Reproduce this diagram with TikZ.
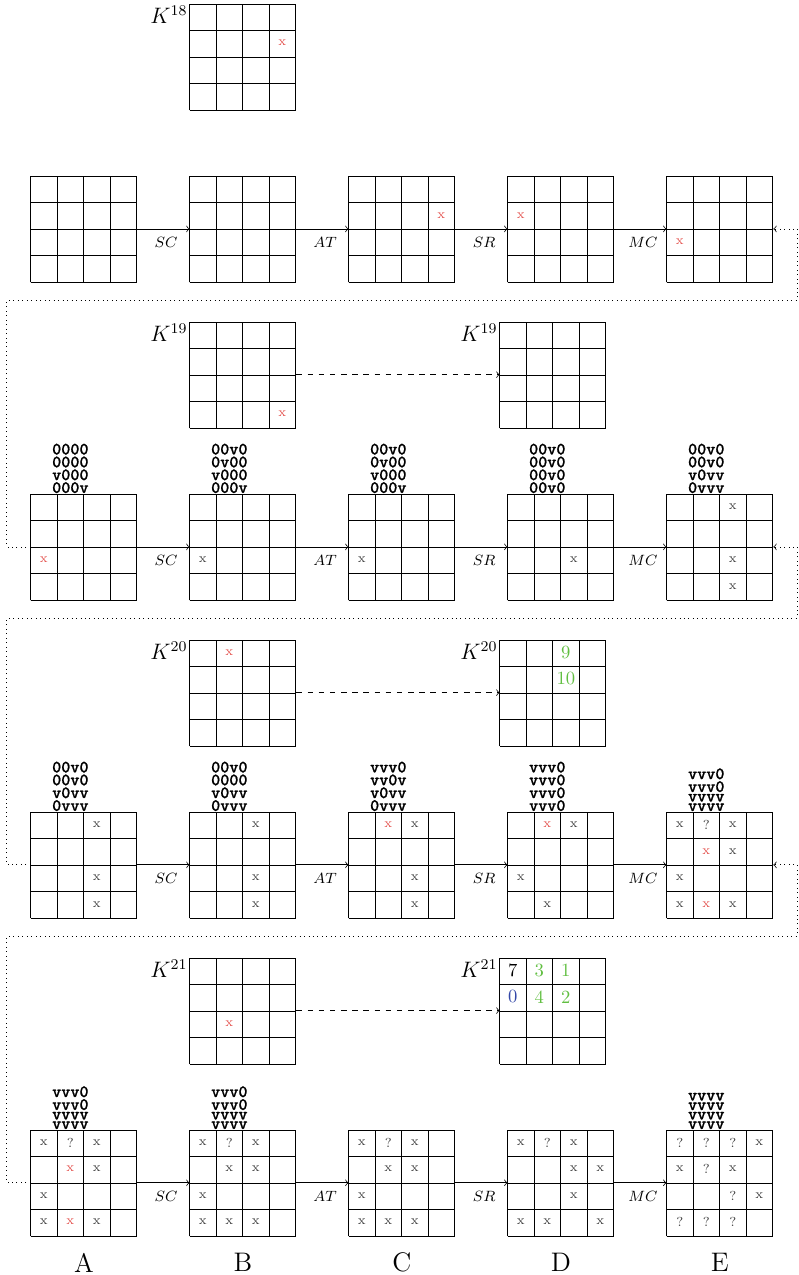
\documentclass[tikz,border=0pt]{standalone}
\usepackage{fontspec}
\usetikzlibrary{calc}
\IfFontExistsTF{lmmonolt10-bold.otf}
    {\newfontfamily\trailfont{lmmonolt10-bold.otf}[FakeBold=0.9]}
    {\newcommand{\trailfont}{\ttfamily\bfseries}}
\definecolor{xred}{RGB}{228,84,80}
\definecolor{kgreen}{RGB}{96,190,64}
\definecolor{kblue}{RGB}{52,72,168}
\newcommand{\drawgrid}[1]{\draw[shift={(#1.south west)}, step=5mm] (0,0) grid (2,2);}
\newcommand{\putcell}[5]{\node[#4] at ($(#1.north west)+({#2*0.5-0.25},{0.25-#3*0.5})$) {#5};}
\tikzset{
  sbox/.style={minimum size=2cm, inner sep=0pt},
  xmark/.style={font=\scriptsize, text=black!75, inner sep=0pt},
  redx/.style={xmark, text=xred},
  kval/.style={inner sep=0pt},
  klabel/.style={left, inner sep=1pt, font=\large},
  trail/.style={anchor=south, inner sep=0pt, align=center, font=\trailfont\fontsize{9.3}{0}\selectfont},
  backline/.style={dotted, ->},
}
\begin{document}
\begin{tikzpicture}
    \useasboundingbox (-0.585,-18.74) rectangle (14.49,5.32);
    \foreach \r in {1,...,4}
        \foreach \c in {1,...,5}
            \node[sbox] (g-\r-\c) at ({3*\c-2},{7-6*\r}) {};
    \node[sbox] (k18) at (4,4.25) {};
    \node[sbox] (k19) at (4,-1.75) {};
    \node[sbox] (kr19) at (9.85,-1.75) {};
    \node[sbox] (k20) at (4,-7.75) {};
    \node[sbox] (kr20) at (9.85,-7.75) {};
    \node[sbox] (k21) at (4,-13.75) {};
    \node[sbox] (kr21) at (9.85,-13.75) {};
    \foreach \r in {1,...,4}
        \foreach \c in {1,...,5}
            {\drawgrid{g-\r-\c}}
    \foreach \k in {k18,k19,kr19,k20,kr20,k21,kr21}
        {\drawgrid{\k}}
    \node[klabel] at ($(k18.north west)+(0,-0.22)$) {\(K^{18}\)};
    \foreach \n in {19,20,21} {
        \node[klabel] at ($(k\n.north west)+(0,-0.22)$) {\(K^{\n}\)};
        \node[klabel] at ($(kr\n.north west)+(0,-0.22)$) {\(K^{\n}\)};
        \draw[dashed,->] (k\n.east) -- (kr\n.west);
    }
    \foreach \r in {1,...,4}
        \foreach \c/\n/\op in {1/2/SC,2/3/AT,3/4/SR,4/5/MC}
            \draw[->] (g-\r-\c.east) -- node[below, pos=0.55, yshift=-1pt, font=\footnotesize]{\(\op\)} (g-\r-\n.west);
    \foreach \r/\n in {1/2,2/3,3/4}
        \draw[backline] (g-\n-1.west) -- ++(-0.45,0) |- ($(g-\r-5.south east)+(0.45,-0.34)$) |- (g-\r-5.east);
    % marked cells
    \foreach \g/\c/\r in {k18/4/2, g-1-3/4/2, g-1-4/1/2, g-1-5/1/3, k19/4/4, g-2-1/1/3,
        k20/2/1, g-3-3/2/1, g-3-4/2/1, g-3-5/2/2, g-3-5/2/4, k21/2/3, g-4-1/2/2, g-4-1/2/4}
        {\putcell{\g}{\c}{\r}{redx}{x}}
    \foreach \g/\c/\r in {g-2-2/1/3, g-2-3/1/3, g-2-4/3/3, g-2-5/3/1, g-2-5/3/3, g-2-5/3/4,
        g-3-1/3/1, g-3-1/3/3, g-3-1/3/4, g-3-2/3/1, g-3-2/3/3, g-3-2/3/4,
        g-3-3/3/1, g-3-3/3/3, g-3-3/3/4, g-3-4/3/1, g-3-4/1/3, g-3-4/2/4,
        g-3-5/1/1, g-3-5/3/1, g-3-5/3/2, g-3-5/1/3, g-3-5/1/4, g-3-5/3/4,
        g-4-1/1/1, g-4-1/3/1, g-4-1/3/2, g-4-1/1/3, g-4-1/1/4, g-4-1/3/4,
        g-4-2/1/1, g-4-2/3/1, g-4-2/2/2, g-4-2/3/2, g-4-2/1/3, g-4-2/1/4, g-4-2/2/4, g-4-2/3/4,
        g-4-3/1/1, g-4-3/3/1, g-4-3/2/2, g-4-3/3/2, g-4-3/1/3, g-4-3/1/4, g-4-3/2/4, g-4-3/3/4,
        g-4-4/1/1, g-4-4/3/1, g-4-4/3/2, g-4-4/4/2, g-4-4/3/3, g-4-4/1/4, g-4-4/2/4, g-4-4/4/4,
        g-4-5/4/1, g-4-5/1/2, g-4-5/3/2, g-4-5/4/3}
        {\putcell{\g}{\c}{\r}{xmark}{x}}
    \foreach \g/\c/\r in {g-3-5/2/1, g-4-1/2/1, g-4-2/2/1, g-4-3/2/1, g-4-4/2/1,
        g-4-5/1/1, g-4-5/2/1, g-4-5/3/1, g-4-5/2/2, g-4-5/3/3, g-4-5/1/4, g-4-5/2/4, g-4-5/3/4}
        {\putcell{\g}{\c}{\r}{xmark}{?}}
    \foreach \g/\c/\r/\s/\t in {kr20/3/1/kgreen/9, kr20/3/2/kgreen/10,
        kr21/1/1/black/7, kr21/2/1/kgreen/3, kr21/3/1/kgreen/1,
        kr21/1/2/kblue/0, kr21/2/2/kgreen/4, kr21/3/2/kgreen/2}
        {\putcell{\g}{\c}{\r}{kval, text=\s}{\t}}
    % v/0 patterns
    \node[trail] at ($(g-2-1.north west)+(0.75,0)$) {0000\\0000\\v000\\000v};
    \node[trail] at ($(g-2-2.north west)+(0.75,0)$) {00v0\\0v00\\v000\\000v};
    \node[trail] at ($(g-2-3.north west)+(0.75,0)$) {00v0\\0v00\\v000\\000v};
    \node[trail] at ($(g-2-4.north west)+(0.75,0)$) {00v0\\00v0\\00v0\\00v0};
    \node[trail] at ($(g-2-5.north west)+(0.75,0)$) {00v0\\00v0\\v0vv\\0vvv};
    \node[trail] at ($(g-3-1.north west)+(0.75,0)$) {00v0\\00v0\\v0vv\\0vvv};
    \node[trail] at ($(g-3-2.north west)+(0.75,0)$) {00v0\\0000\\v0vv\\0vvv};
    \node[trail] at ($(g-3-3.north west)+(0.75,0)$) {vvv0\\vv0v\\v0vv\\0vvv};
    \node[trail] at ($(g-3-4.north west)+(0.75,0)$) {vvv0\\vvv0\\vvv0\\vvv0};
    \node[trail] at ($(g-3-5.north west)+(0.75,0)$) {vvv0\\vvv0\\vvvv\\vvvv};
    \node[trail] at ($(g-4-1.north west)+(0.75,0)$) {vvv0\\vvv0\\vvvv\\vvvv};
    \node[trail] at ($(g-4-2.north west)+(0.75,0)$) {vvv0\\vvv0\\vvvv\\vvvv};
    \node[trail] at ($(g-4-5.north west)+(0.75,0)$) {vvvv\\vvvv\\vvvv\\vvvv};
    \foreach \c/\l in {1/A,2/B,3/C,4/D,5/E}
        \node[font=\Large] (lab-\l) at ($(g-4-\c.south)+(0,-0.5)$) {\l};
\end{tikzpicture}
\end{document}
